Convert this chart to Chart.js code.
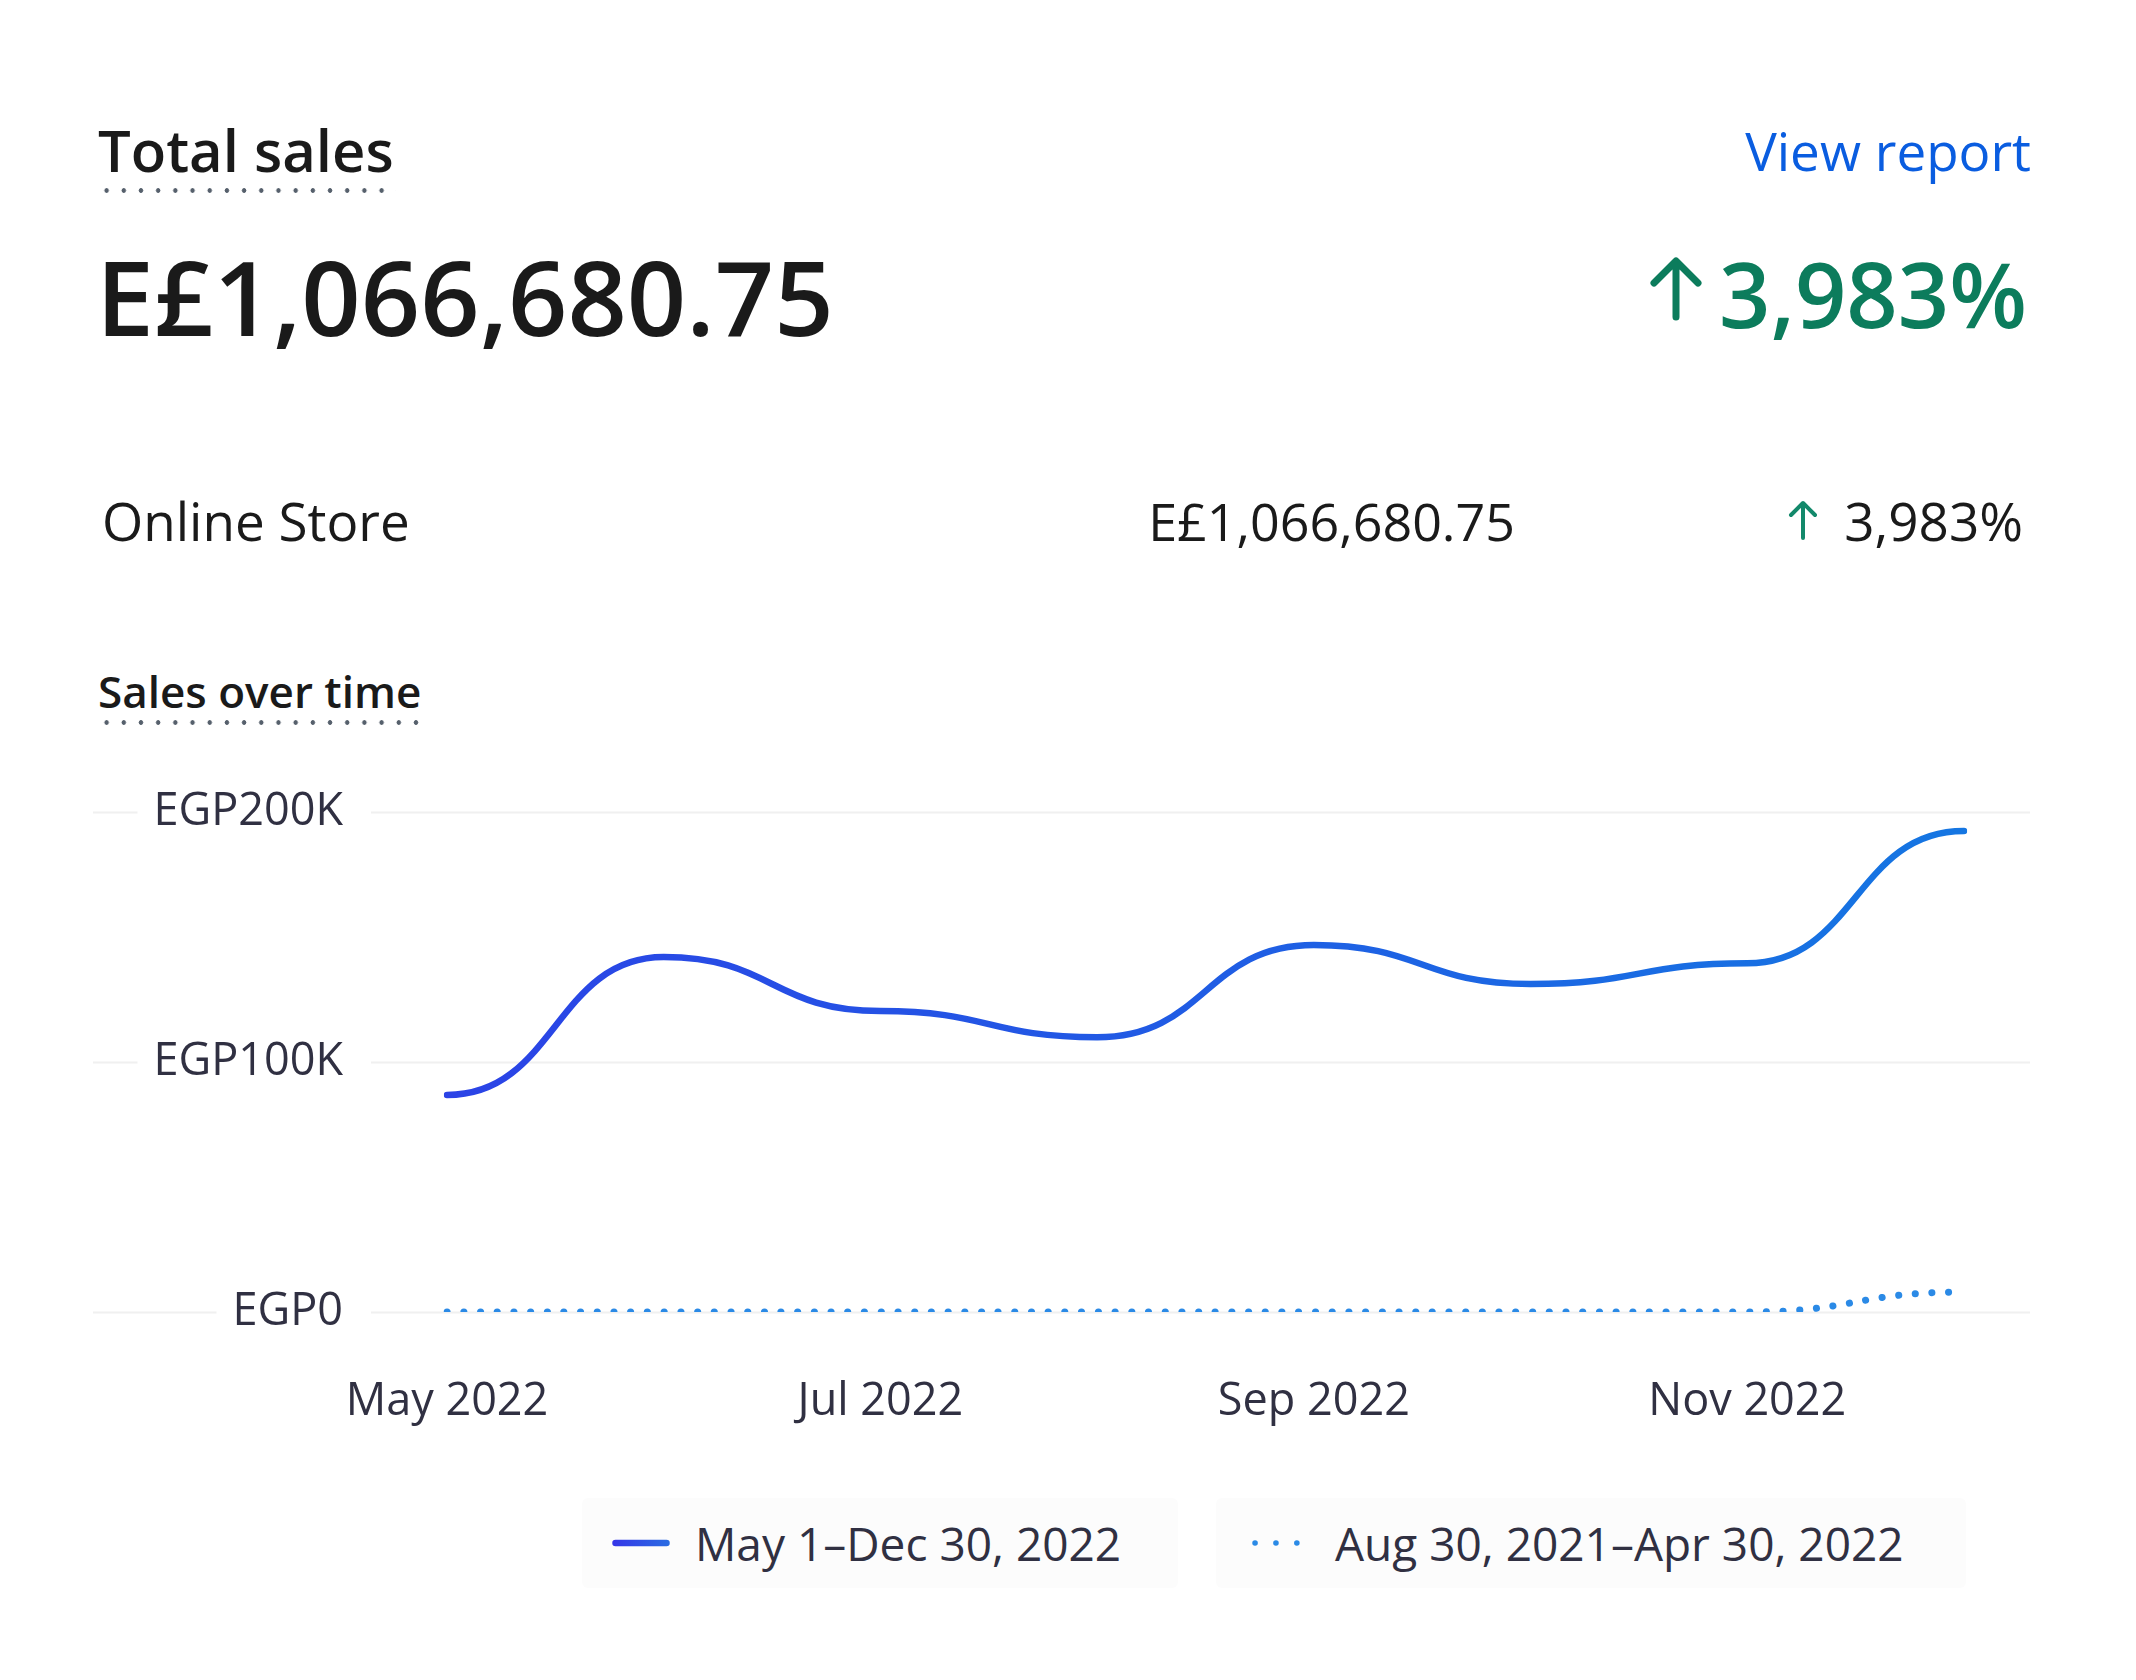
<!DOCTYPE html>
<html>
<head>
<meta charset="utf-8">
<script src="https://cdn.jsdelivr.net/npm/chart.js@4.4.1/dist/chart.umd.min.js"></script>
<style>
  html, body { margin: 0; padding: 0; background: #fff; }
  body { width: 2136px; height: 1680px; position: relative; overflow: hidden; font-family: 'Open Sans', sans-serif; color: #1a1a1a; }
  .abs { position: absolute; line-height: 1; white-space: nowrap; }
  .dots { position: absolute; height: 5px; background: radial-gradient(circle, #56606c 2px, transparent 2.6px) 0 0 / 17.2px 5px repeat-x; }
  #chartBox { position: absolute; left: 93px; top: 681px; width: 1937px; height: 765px; }
  #legend { position: absolute; left: 582px; top: 1498px; display: flex; gap: 38px; }
  .item { box-sizing: border-box; height: 90px; display: flex; align-items: center; background: #fcfcfc; border-radius: 6px; font-size: 46px; color: #303042; }
</style>
</head>
<body>
  <div class="abs" style="left:98px; top:121px; font-size:58px; font-weight:600;">Total sales</div>
  <div class="dots" style="left:98px; top:188px; width:298px;"></div>
  <div class="abs" style="right:105px; top:124px; font-size:53px; color:#0a5de0;">View report</div>

  <div class="abs" style="left:96px; top:244px; font-size:104px; font-weight:600;">E£1,066,680.75</div>
  <svg class="abs" style="left:1648px; top:254px;" width="56" height="68" viewBox="0 0 56 68">
    <path d="M28 8 L28 63 M6 29 L28 7 L50 29" fill="none" stroke="#0c7c5c" stroke-width="7" stroke-linecap="round" stroke-linejoin="round"/>
  </svg>
  <div class="abs" style="right:109px; top:248px; font-size:90px; font-weight:600; color:#0c7c5c;">3,983%</div>

  <div class="abs" style="left:102px; top:494px; font-size:53px;">Online Store</div>
  <div class="abs" style="right:621px; top:495px; font-size:52px;">E£1,066,680.75</div>
  <svg class="abs" style="left:1786px; top:499px;" width="34" height="42" viewBox="0 0 34 42">
    <path d="M17 5 L17 39 M5 16 L17 4 L29 16" fill="none" stroke="#13896b" stroke-width="4" stroke-linecap="round" stroke-linejoin="round"/>
  </svg>
  <div class="abs" style="right:113px; top:494px; font-size:53px;">3,983%</div>

  <div class="abs" style="left:98px; top:669px; font-size:44px; font-weight:600;">Sales over time</div>
  <div class="dots" style="left:98px; top:720px; width:332px;"></div>

  <div id="chartBox"><canvas id="salesChart"></canvas></div>
  <div id="legend"></div>

<script>
// 每月銷售額（目前期間 / 前一期間）
const months = ['May 2022', 'Jun 2022', 'Jul 2022', 'Aug 2022', 'Sep 2022', 'Oct 2022', 'Nov 2022', 'Dec 2022'];
const currentSales = [86800, 142000, 120400, 109900, 146800, 131200, 139500, 192400];
const previousSales = [0, 0, 0, 0, 0, 0, 0, 8000];
const seriesLabels = ['May 1–Dec 30, 2022', 'Aug 30, 2021–Apr 30, 2022'];
const yTickValues = [0, 100000, 200000];
const yTickLabels = ['EGP0', 'EGP100K', 'EGP200K'];

Chart.defaults.font.family = "'Open Sans', sans-serif";
Chart.defaults.font.size = 45;
Chart.defaults.color = '#303042';

// 格線延伸到整個畫布寬度
const wideGrid = {
  id: 'wideGrid',
  beforeDraw(chart) {
    const ctx = chart.ctx;
    const yScale = chart.scales.y;
    ctx.save();
    ctx.strokeStyle = '#f0f0f0';
    ctx.lineWidth = 2;
    yScale.ticks.forEach(function(t, i) {
      const py = Math.round(yScale.getPixelForTick(i)) + 0.5;
      ctx.beginPath();
      ctx.moveTo(0, py);
      ctx.lineTo(chart.width, py);
      ctx.stroke();
    });
    ctx.restore();
  }
};

// 每個點都是水平切線（圓角階梯曲線）
const roundedSteps = {
  id: 'roundedSteps',
  beforeDatasetDraw(chart, args) {
    const meta = args.meta;
    meta.dataset.updateControlPoints(chart.chartArea, 'x');
    const pts = meta.data;
    pts.forEach(function(p, i) {
      const prev = pts[i - 1];
      const next = pts[i + 1];
      p.cp1x = prev ? p.x - (p.x - prev.x) * 0.5 : p.x;
      p.cp1y = p.y;
      p.cp2x = next ? p.x + (next.x - p.x) * 0.5 : p.x;
      p.cp2y = p.y;
    });
  }
};

function lineGradient(context) {
  const chart = context.chart;
  const area = chart.chartArea;
  if (!area) return '#2450e6';
  const g = chart.ctx.createLinearGradient(area.left, 0, area.right, 0);
  g.addColorStop(0, '#2b43e6');
  g.addColorStop(1, '#1576e2');
  return g;
}

const ctx = document.getElementById('salesChart').getContext('2d');
const salesChart = new Chart(ctx, {
  type: 'line',
  data: {
    labels: months,
    datasets: [{
      label: seriesLabels[0],
      data: currentSales,
      borderColor: lineGradient,
      borderWidth: 6.5,
      borderCapStyle: 'round',
      borderJoinStyle: 'round',
      tension: 0.4,
      pointRadius: 0
    }, {
      label: seriesLabels[1],
      data: previousSales,
      borderColor: '#2b8ae6',
      borderWidth: 7,
      borderDash: [0.1, 16.6],
      borderCapStyle: 'round',
      tension: 0.4,
      pointRadius: 0
    }]
  },
  options: {
    responsive: true,
    maintainAspectRatio: false,
    animation: false,
    layout: { padding: { top: 0, right: 66, bottom: 0, left: 0 } },
    plugins: {
      legend: { display: false },
      tooltip: { enabled: false }
    },
    scales: {
      x: {
        grid: { display: false, drawTicks: false },
        border: { display: false },
        ticks: {
          autoSkip: false,
          maxRotation: 0,
          padding: 63,
          callback: function(value, index) {
            return index % 2 === 0 ? months[index] : null;
          }
        },
        afterFit: function(scale) { scale.height = 134; }
      },
      y: {
        min: 0,
        max: 200000,
        grid: { display: false, drawTicks: false },
        border: { display: false },
        ticks: {
          stepSize: 100000,
          padding: 104,
          showLabelBackdrop: true,
          backdropColor: '#ffffff',
          backdropPadding: { top: 6, bottom: 6, left: 16, right: 28 },
          callback: function(value) {
            const i = yTickValues.indexOf(value);
            return i >= 0 ? yTickLabels[i] : null;
          }
        },
        afterFit: function(scale) { scale.width = 354; }
      }
    }
  },
  plugins: [wideGrid, roundedSteps]
});

// HTML 圖例
const legendBox = document.getElementById('legend');
salesChart.data.datasets.forEach(function(ds, i) {
  const item = document.createElement('div');
  item.className = 'item';
  let sample;
  if (i === 0) {
    item.style.width = '596px';
    item.style.paddingLeft = '30px';
    sample = '<svg width="58" height="10" style="margin-right:25px">' +
      '<defs><linearGradient id="lg" gradientUnits="userSpaceOnUse" x1="0" y1="0" x2="58" y2="0">' +
      '<stop offset="0" stop-color="#3535e8"/><stop offset="1" stop-color="#2a6de2"/></linearGradient></defs>' +
      '<line x1="3.5" y1="5" x2="54.5" y2="5" stroke="url(#lg)" stroke-width="6.5" stroke-linecap="round"/></svg>';
  } else {
    item.style.width = '750px';
    item.style.paddingLeft = '34px';
    sample = '<svg width="51" height="10" style="margin-right:34px">' +
      '<line x1="5" y1="5" x2="47" y2="5" stroke="#2b8ae6" stroke-width="5.5" stroke-linecap="round" stroke-dasharray="0.1 20.8"/></svg>';
  }
  item.innerHTML = sample + '<span>' + ds.label + '</span>';
  legendBox.appendChild(item);
});
</script>
</body>
</html>
